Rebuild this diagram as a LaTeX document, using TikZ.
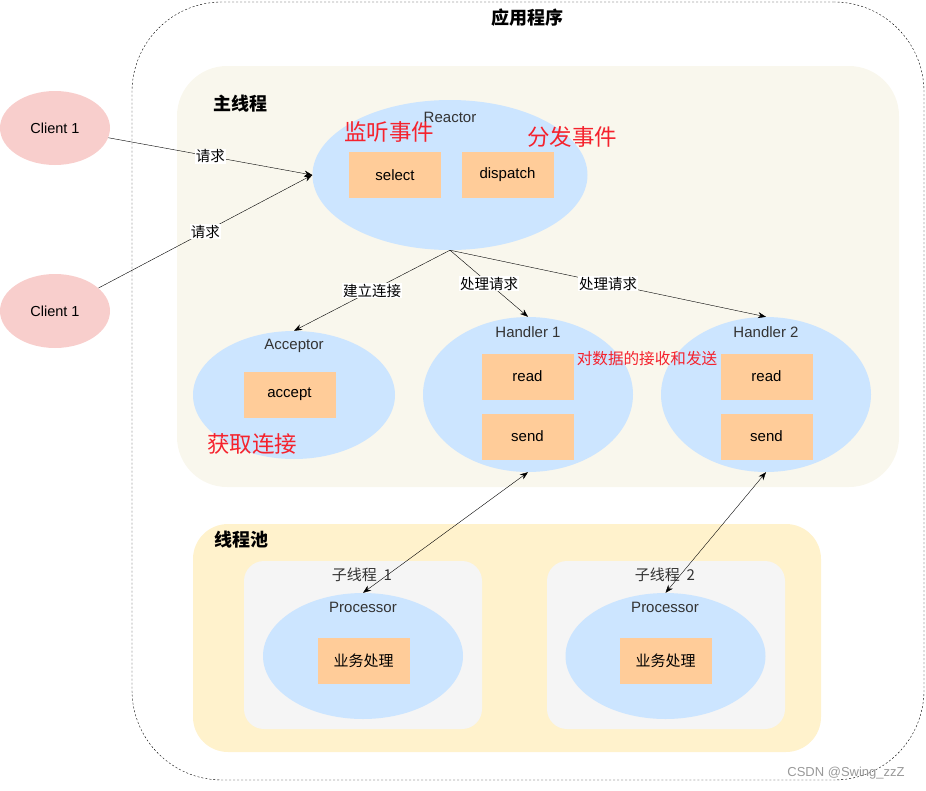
\documentclass[tikz,border=0pt]{standalone}
\usepackage{fontspec}
\setmainfont{Liberation Sans}
\newfontfamily\cjk{Noto Sans CJK SC}
\usetikzlibrary{shapes.geometric,arrows.meta}
\definecolor{beige}{HTML}{F9F7ED}
\definecolor{poolbg}{HTML}{FFF2CC}
\definecolor{subbg}{HTML}{F5F5F5}
\definecolor{blueell}{HTML}{CCE5FF}
\definecolor{orangebox}{HTML}{FFCC99}
\definecolor{pinkell}{HTML}{F8CECC}
\definecolor{redtxt}{HTML}{F5222D}
\begin{document}
\begin{tikzpicture}[x=1pt,y=-1pt,>={Stealth[length=8pt,width=6pt]},
  area/.style={rectangle,inner sep=0pt},
  ell/.style={ellipse,fill=blueell,inner sep=0pt},
  client/.style={ellipse,fill=pinkell,inner sep=0pt,minimum width=110,minimum height=74,font=\fontsize{14.5}{16}\selectfont},
  op/.style={rectangle,fill=orangebox,inner sep=0pt,minimum width=92,minimum height=46,font=\fontsize{15}{17}\selectfont},
  title/.style={text=black!80,font=\fontsize{15}{17}\selectfont},
  head/.style={font=\cjk\bfseries\fontsize{18}{20}\selectfont},
  note/.style={text=redtxt,font=\cjk\fontsize{22.5}{25}\selectfont},
  lbl/.style={fill=white,inner sep=1pt,font=\cjk\fontsize{14.5}{16}\selectfont}]
\useasboundingbox (0,0) rectangle (926,790);
\node[area,draw,dash pattern=on 2pt off 2pt,rounded corners=90,minimum width=792,minimum height=778] (app) at (528,391) {};
\node[head] (apptitle) at (527,18) {应用程序};
\node[area,fill=beige,rounded corners=50,minimum width=722,minimum height=421] (main) at (538,276.5) {};
\node[head] (maintitle) at (240,104) {主线程};
\node[area,fill=poolbg,rounded corners=35,minimum width=628,minimum height=228] (pool) at (507,638) {};
\node[head] (pooltitle) at (241,540) {线程池};
\node[area,fill=subbg,rounded corners=20,minimum width=238,minimum height=168] (sub1) at (363,645) {};
\node[area,fill=subbg,rounded corners=20,minimum width=238,minimum height=168] (sub2) at (666,645) {};
\node[title,font=\cjk\fontsize{15}{17}\selectfont] (sub1title) at (362,575) {子线程\ \ 1};
\node[title,font=\cjk\fontsize{15}{17}\selectfont] (sub2title) at (665,575) {子线程\ \ 2};
\node[client] (c1) at (55,128) {Client 1};
\node[client] (c2) at (55,311) {Client 1};
\node[ell,minimum width=275,minimum height=150] (reactor) at (450,175) {};
\node[title] (reactortitle) at (450,117) {Reactor};
\node[op] (select) at (395,175) {select};
\node[op] (dispatch) at (507.5,175) {dispatch};
\node[note] (listen) at (389,132) {监听事件};
\node[note] (distribute) at (572,137) {分发事件};
\node[ell,minimum width=202,minimum height=128] (acceptor) at (294,395) {};
\node[title] (acceptortitle) at (294,346) {Acceptor};
\node[op] (accept) at (289.5,394.5) {accept};
\node[note] (getconn) at (252,444) {获取连接};
\node[ell,minimum width=210,minimum height=155] (h1) at (528,394.5) {};
\node[title] (h1title) at (528,332) {Handler 1};
\node[op] (read1) at (527.5,376.5) {read};
\node[op] (send1) at (527.5,436.5) {send};
\node[ell,minimum width=210,minimum height=155] (h2) at (766,394.5) {};
\node[title] (h2title) at (766,332) {Handler 2};
\node[op] (read2) at (766.5,376.5) {read};
\node[op] (send2) at (766.5,436.5) {send};
\node[note,font=\cjk\fontsize{15.6}{17}\selectfont] (rw) at (647,359) {对数据的接收和发送};
\node[ell,minimum width=200,minimum height=126] (p1) at (363,656) {};
\node[title] (p1title) at (363,607) {Processor};
\node[op,font=\cjk\fontsize{15}{17}\selectfont] (biz1) at (363.5,661) {业务处理};
\node[ell,minimum width=200,minimum height=126] (p2) at (665.5,656) {};
\node[title] (p2title) at (665,607) {Processor};
\node[op,font=\cjk\fontsize{15}{17}\selectfont] (biz2) at (665.5,661) {业务处理};
\node[text=black!40,font=\fontsize{13}{15}\selectfont] (wm) at (846,773) {CSDN @Swing\_zzZ};
\draw[->] (c1) -- (reactor.west) node[lbl,midway] (req1) {请求};
\draw[->] (c2) -- (reactor.west) node[lbl,midway] (req2) {请求};
\draw[->] (reactor.south) -- (acceptor.north) node[lbl,midway] (conn) {建立连接};
\draw[->] (reactor.south) -- (h1.north) node[lbl,midway] (handle1) {处理请求};
\draw[->] (reactor.south) -- (h2.north) node[lbl,midway] (handle2) {处理请求};
\draw[<->] (h1.south) -- (p1.north);
\draw[<->] (h2.south) -- (p2.north);
\end{tikzpicture}
\end{document}
